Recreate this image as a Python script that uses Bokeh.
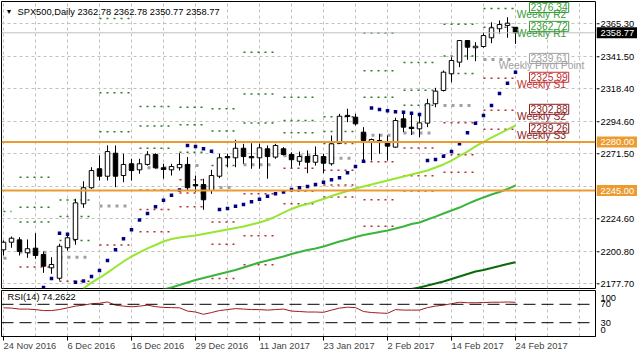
from bokeh.plotting import figure
from bokeh.layouts import column, row
from bokeh.models import Range1d, FixedTicker, Span, Label, ColumnDataSource, Grid
from bokeh.core.properties import value
from bokeh.embed import file_html
from bokeh.resources import INLINE

nan = float("nan")

# ---------------- data ----------------
title_text = "SPX500,Daily  2362.78 2362.78 2350.77 2358.77"
rsi_title = "RSI(14) 74.2622"

date_tick_bars = [0, 8, 16, 24, 32, 40, 48, 56, 64]
date_tick_labels = ["24 Nov 2016", "6 Dec 2016", "16 Dec 2016", "29 Dec 2016", "11 Jan 2017",
                    "23 Jan 2017", "2 Feb 2017", "14 Feb 2017", "24 Feb 2017"]
grid_bars = list(range(0, 76, 4))
price_label_ticks = [2177.70, 2200.80, 2224.60, 2271.50, 2294.60, 2318.40, 2341.50, 2365.30]
price_grid_ticks = [2177.70, 2200.80, 2224.60, 2248.00, 2271.50, 2294.60, 2318.40, 2341.50, 2365.30]
rsi_label_pos = [15, 30, 70, 83]
rsi_label_text = ["0", "30", "70", "100"]
rsi_levels = [30, 70]

opens = [2202.2, 2207.7, 2209.4, 2200.1, 2203.4, 2198.8, 2189.2, 2181.7, 2203.7, 2209.7,
         2235.4, 2247.0, 2260.7, 2255.3, 2271.9, 2255.8, 2264.3, 2259.9, 2263.8, 2271.0,
         2261.4, 2259.9, 2261.4, 2263.8, 2249.3, 2249.3, 2245.0, 2255.3, 2269.5, 2268.6,
         2275.5, 2269.5, 2268.6, 2275.1, 2269.1, 2275.1, 2271.0, 2266.1, 2269.5, 2265.4,
         2269.5, 2264.3, 2279.1, 2299.2, 2297.9, 2287.1, 2280.4, 2281.1, 2279.9, 2276.3,
         2296.7, 2290.7, 2289.5, 2293.6, 2307.6, 2317.2, 2329.2, 2337.6, 2353.2, 2348.0,
         2348.9, 2355.2, 2361.7, 2364.1, 2362.78]
highs = [2209.0, 2211.8, 2211.3, 2209.7, 2214.2, 2201.0, 2196.9, 2206.6, 2214.2, 2239.0,
         2251.7, 2261.8, 2270.3, 2277.5, 2277.5, 2271.5, 2267.9, 2267.9, 2273.4, 2271.9,
         2264.3, 2264.3, 2271.9, 2269.1, 2255.8, 2253.5, 2259.9, 2271.5, 2271.5, 2281.6,
         2278.7, 2279.1, 2278.7, 2277.5, 2278.7, 2276.3, 2272.6, 2273.1, 2273.9, 2276.8,
         2271.5, 2284.7, 2300.3, 2304.0, 2300.3, 2290.7, 2282.5, 2285.9, 2284.7, 2297.5,
         2300.3, 2300.3, 2299.1, 2311.2, 2319.1, 2331.6, 2341.2, 2353.2, 2353.2, 2352.0,
         2359.2, 2366.4, 2367.7, 2370.0, 2362.78]
lows = [2198.1, 2203.7, 2198.1, 2196.4, 2195.7, 2185.6, 2184.9, 2180.1, 2201.7, 2205.8,
        2232.5, 2246.2, 2252.2, 2252.2, 2247.4, 2251.0, 2252.2, 2257.1, 2263.0, 2260.7,
        2253.5, 2255.8, 2259.4, 2245.0, 2243.8, 2231.1, 2242.6, 2253.9, 2261.8, 2261.8,
        2264.3, 2260.7, 2260.7, 2253.5, 2267.9, 2270.3, 2261.4, 2263.0, 2257.5, 2263.0,
        2257.5, 2263.0, 2278.7, 2294.3, 2291.9, 2266.6, 2266.6, 2271.5, 2266.6, 2275.8,
        2287.1, 2285.0, 2283.5, 2290.7, 2305.1, 2316.5, 2323.1, 2334.0, 2339.3, 2338.3,
        2348.0, 2351.3, 2358.1, 2355.2, 2350.77]
closes = [2207.7, 2210.6, 2201.0, 2203.0, 2198.1, 2190.4, 2191.6, 2204.8, 2210.9, 2236.1,
          2247.0, 2259.4, 2255.3, 2273.1, 2255.3, 2263.8, 2259.4, 2264.3, 2270.8, 2261.4,
          2260.2, 2262.3, 2263.8, 2247.0, 2248.4, 2238.3, 2255.8, 2268.6, 2268.6, 2275.5,
          2269.5, 2268.6, 2275.8, 2269.5, 2277.5, 2271.0, 2267.2, 2269.5, 2265.4, 2270.3,
          2264.7, 2278.7, 2298.6, 2298.4, 2293.1, 2281.1, 2281.8, 2279.6, 2277.0, 2295.5,
          2290.7, 2289.7, 2293.8, 2307.6, 2316.7, 2330.4, 2338.8, 2353.2, 2348.4, 2349.1,
          2356.8, 2362.4, 2364.8, 2365.7, 2358.77]

sar = [nan, nan, nan, nan, nan, 2175.0, 2181.5, 2214.2, 2213.5, 2178.8,
       2179.7, 2183.0, 2187.3, 2194.5, 2202.2, 2210.2, 2216.7, 2223.7, 2228.4, 2233.3,
       2238.0, 2241.6, 2245.4, 2277.5, 2276.8, 2275.1, 2273.4, 2231.3, 2232.0, 2233.6,
       2234.9, 2236.9, 2238.7, 2240.9, 2242.6, 2243.9, 2245.7, 2247.0, 2247.9, 2249.3,
       2251.0, 2252.7, 2254.2, 2257.8, 2262.3, 2266.1, 2304.5, 2303.4, 2302.6, 2301.9,
       2301.5, 2300.8, 2299.8, 2266.7, 2267.4, 2269.8, 2273.1, 2278.7, 2286.6, 2293.6,
       2299.1, 2306.3, 2315.0, 2322.4, 2330.4]

ma_fast = [nan] * 10 + [
    2174.3, 2178.6, 2181.9, 2185.8, 2189.8, 2193.8, 2197.4, 2200.3, 2203.2, 2205.7,
    2208.2, 2210.0, 2211.1, 2211.8, 2212.5, 2213.6, 2214.7, 2215.8, 2216.9, 2218.0,
    2219.0, 2220.5, 2221.9, 2223.7, 2226.2, 2229.1, 2231.7, 2233.8, 2235.3, 2237.1,
    2238.9, 2241.0, 2242.8, 2244.6, 2246.4, 2247.9, 2249.3, 2250.8, 2252.2, 2253.7,
    2255.1, 2256.6, 2258.0, 2259.4, 2261.6, 2263.8, 2266.6, 2269.9, 2273.1, 2276.8,
    2280.0, 2283.2, 2286.1, 2289.0, 2291.9]
ma_mid = [nan] * 20 + [
    2173.6, 2175.0, 2176.8, 2178.6, 2180.4, 2181.9, 2183.3, 2184.8, 2186.2, 2187.6,
    2189.5, 2191.3, 2193.1, 2194.5, 2196.0, 2197.4, 2199.2, 2200.6, 2202.1, 2203.2,
    2204.6, 2206.4, 2208.2, 2209.7, 2211.5, 2212.9, 2214.0, 2215.1, 2216.1, 2217.6,
    2219.0, 2220.8, 2221.9, 2224.1, 2226.2, 2228.4, 2230.6, 2232.7, 2235.3, 2237.8,
    2240.0, 2242.1, 2243.9, 2246.1, 2248.6]
ma_slow = [nan] * 51 + [
    2173.9, 2175.0, 2176.5, 2177.9, 2179.4, 2181.2, 2183.0, 2184.8, 2186.6, 2187.6,
    2189.1, 2190.5, 2192.0, 2193.3]

rsi = [62.3, 61.7, 59.6, 59.6, 58.5, 56.4, 56.4, 58.5, 62.3, 66.0,
       68.1, 71.3, 72.3, 75.1, 68.1, 66.0, 64.5, 66.0, 68.1, 64.9,
       63.2, 62.8, 62.3, 55.3, 53.2, 48.3, 52.1, 56.4, 58.5, 60.6,
       59.6, 58.5, 58.5, 57.4, 58.5, 59.6, 55.3, 54.3, 53.2, 53.2,
       52.6, 57.4, 61.7, 63.8, 62.8, 54.3, 52.1, 51.1, 50.4, 58.5,
       57.4, 57.4, 57.4, 62.8, 66.0, 68.1, 71.3, 74.5, 73.4, 73.4,
       73.8, 74.5, 74.5, 75.1, 74.26]

# weekly pivot levels (one entry per week)
week_start = [0, 2, 7, 12, 17, 22, 26, 30, 35, 40, 45, 50, 55, 60]
week_end = [1, 6, 11, 16, 21, 25, 29, 34, 39, 44, 49, 54, 59, 64]
piv_pp = [2196.2, 2200.5, 2196.9, 2233.8, 2261.4, 2263.1, 2247.1, 2263.5, 2270.0, 2268.2, 2284.9, 2286.5, 2306.4, 2339.61]
piv_r1 = [2229.9, 2222.3, 2208.9, 2287.4, 2275.5, 2272.6, 2263.1, 2293.7, 2286.6, 2278.9, 2312.2, 2306.5, 2329.4, 2362.72]
piv_r2 = [nan, 2233.0, 2226.2, 2315.5, 2291.5, 2292.5, 2287.9, 2314.6, 2295.6, 2287.5, 2331.4, 2317.4, 2342.0, 2376.34]
piv_r3 = [nan, 2254.5, 2238.2, 2369.1, 2305.6, 2305.0, 2303.9, 2344.8, 2312.2, 2298.2, 2358.7, 2337.4, 2365.0, nan]
piv_s1 = [nan, 2189.8, 2179.6, 2205.7, 2245.4, 2252.7, 2222.3, 2242.6, 2261.0, 2259.6, 2265.7, 2275.6, 2293.8, 2325.99]
piv_s2 = [nan, nan, nan, nan, 2231.3, 2243.2, 2206.3, 2212.4, 2244.4, 2248.9, 2238.4, 2255.6, 2270.8, 2302.88]
piv_s3 = [nan, nan, nan, nan, 2215.2, 2233.3, 2181.5, 2191.5, 2235.4, 2240.3, 2219.2, 2244.7, 2258.2, 2289.26]

last_labels = ["Weekly R2", "Weekly R1", "Weekly Pivot Point", "Weekly S1", "Weekly S2", "Weekly S3"]
last_levels = [piv_r2[-1], piv_r1[-1], piv_pp[-1], piv_s1[-1], piv_s2[-1], piv_s3[-1]]

hlines = [2280.00, 2245.00]
last_price = closes[-1]
tag_prices = hlines + [last_price]

# ---------------- style ----------------
FONT = "Liberation Sans"
FS = "9.3px"
GRID = "#c0c0c0"
ORANGE = "#eb9b30"
R_COL = "#2a7a2a"
S_COL = "#b03030"
PP_COL = "#a0a0a0"
label_cols = ["#3a9a3a", "#3a9a3a", "#a0a0a0", "#c03030", "#8b1c1c", "#8b1c1c"]
tag_cols = [ORANGE, ORANGE, "black"]

n = len(closes)
idx = list(range(n))


def base_fig(w, h, xr, yr, top, bottom, left=1, right=1, **kw):
    f = figure(width=w, height=h, x_range=xr, y_range=yr, output_backend="svg", toolbar_location=None,
               min_border_left=left, min_border_right=right, min_border_top=top, min_border_bottom=bottom, **kw)
    f.background_fill_color = "white"
    f.border_fill_color = "white"
    f.xgrid.visible = False
    f.ygrid.visible = False
    return f


# ---------------- main price panel ----------------
p = base_fig(596, 289, Range1d(-0.25, 74.0), Range1d(2174.3, 2381.37), 1, 1,
             x_axis_location=None, y_axis_location=None)
p.outline_line_color = "black"
p.add_layout(Grid(dimension=0, ticker=FixedTicker(ticks=grid_bars), grid_line_color=GRID, grid_line_dash="3 3"))
p.add_layout(Grid(dimension=1, ticker=FixedTicker(ticks=price_grid_ticks), grid_line_color=GRID, grid_line_dash="3 3"))


def piv(levels, color, width, dash):
    xs0, xs1, ys = [], [], []
    for s, e, v in zip(week_start, week_end, levels):
        if v == v:
            xs0.append(s); xs1.append(e); ys.append(v)
    src = ColumnDataSource(dict(x0=xs0, x1=xs1, y=ys))
    p.segment(x0="x0", y0="y", x1="x1", y1="y", source=src, line_color=color, line_width=width, line_dash=dash)


for lv in (piv_r1, piv_r2, piv_r3):
    piv(lv, R_COL, 1.5, "2 5")
for lv in (piv_s1, piv_s2, piv_s3):
    piv(lv, S_COL, 1.5, "2 5")
piv(piv_pp, PP_COL, 3, "3 5")

p.line(idx, ma_slow, line_color="#0a6a0a", line_width=2)
p.line(idx, ma_mid, line_color="#3cb43c", line_width=2)
p.line(idx, ma_fast, line_color="#96e632", line_width=2)

src = ColumnDataSource(dict(
    x=idx, o=opens, h=highs, l=lows, c=closes,
    top=[max(a, b) for a, b in zip(opens, closes)],
    bot=[min(a, b) for a, b in zip(opens, closes)],
    fill=["white" if c >= o else "black" for o, c in zip(opens, closes)]))
p.segment(x0="x", y0="l", x1="x", y1="h", source=src, line_color="black", line_width=1)
p.vbar(x="x", top="top", bottom="bot", width=0.56, source=src, fill_color="fill", line_color="black", line_width=1)

p.scatter(idx, sar, marker="square", size=3.5, fill_color="#000080", line_color=None)

for h in hlines:
    p.add_layout(Span(location=h, dimension="width", line_color=ORANGE, line_width=2))
p.add_layout(Span(location=last_price, dimension="width", line_color="#c0c0c0", line_width=1))

for txt, lvl, col in zip(last_labels, last_levels, label_cols):
    p.add_layout(Label(x=65.75, y=lvl, y_offset=1, text="%.2f" % lvl, text_font=FONT, text_font_size="10.3px",
                       text_color=col, text_baseline="middle", border_line_color=col,
                       background_fill_color="white", padding=1))
    p.add_layout(Label(x=67.25, y=lvl, y_offset=-6, text=txt, text_font=FONT, text_font_size="10.3px",
                       text_color=col, text_baseline="middle", text_align="center"))

p.add_layout(Label(x=4, y=277, x_units="screen", y_units="screen", text="\u25bc", text_font=FONT,
                   text_font_size="7px", text_color="black", text_baseline="middle"))
p.add_layout(Label(x=16, y=277, x_units="screen", y_units="screen", text=title_text, text_font=FONT,
                   text_font_size=FS, text_color="black", text_baseline="middle"))

# ---------------- price scale column ----------------
pa = base_fig(41, 289, Range1d(0, 41), p.y_range, 1, 1, left=0, right=0,
              x_axis_location=None, y_axis_location=None)
pa.outline_line_color = None
pa.segment(x0=0, x1=3, y0=price_label_ticks, y1=price_label_ticks, line_color="black", line_width=1)
pa.text(x=4, y=price_label_ticks, text=["%.2f" % t for t in price_label_ticks],
        text_font=value(FONT), text_font_size=value(FS), text_color="black",
        text_align="left", text_baseline="middle")
pa.rect(x=20.5, y=tag_prices, width=41, height=11, height_units="screen",
        fill_color=tag_cols, line_color=None)
pa.text(x=4, y=tag_prices, text=["%.2f" % t for t in tag_prices],
        text_font=value(FONT), text_font_size=value(FS), text_color="white",
        text_align="left", text_baseline="middle")

# ---------------- RSI panel ----------------
r = base_fig(596, 69, p.x_range, Range1d(0, 100), 1, 21, y_axis_location=None)
r.outline_line_color = "black"
r.add_layout(Grid(dimension=0, ticker=FixedTicker(ticks=grid_bars), grid_line_color=GRID, grid_line_dash="3 3"))
for lv in rsi_levels:
    r.add_layout(Span(location=lv, dimension="width", line_color="black", line_width=1, line_dash="12 6"))
r.line(idx, rsi, line_color="#a01c1c", line_width=1)

xa = r.xaxis[0]
xa.ticker = FixedTicker(ticks=date_tick_bars)
xa.major_label_overrides = {k: v for k, v in zip(date_tick_bars, date_tick_labels)}
xa.major_label_orientation = -0.0001
xa.major_label_text_font = FONT
xa.major_label_text_font_size = FS
xa.major_tick_out = 4
xa.major_tick_in = 0
xa.minor_tick_out = 0
xa.minor_tick_in = 0
xa.major_label_standoff = 5
xa.axis_line_color = "black"

r.add_layout(Label(x=6, y=40, x_units="screen", y_units="screen", text=rsi_title, text_font=FONT,
                   text_font_size=FS, text_color="black", text_baseline="middle"))

ra = base_fig(41, 69, Range1d(0, 41), r.y_range, 1, 21, left=0, right=0,
              x_axis_location=None, y_axis_location=None)
ra.outline_line_color = None
ra.text(x=4, y=rsi_label_pos, text=rsi_label_text, text_font=value(FONT), text_font_size=value(FS),
        text_color="black", text_align="left", text_baseline="middle")

layout = column(row(p, pa, spacing=0), row(r, ra, spacing=0), spacing=0)
open("out.html", "w").write(file_html(layout, INLINE))
